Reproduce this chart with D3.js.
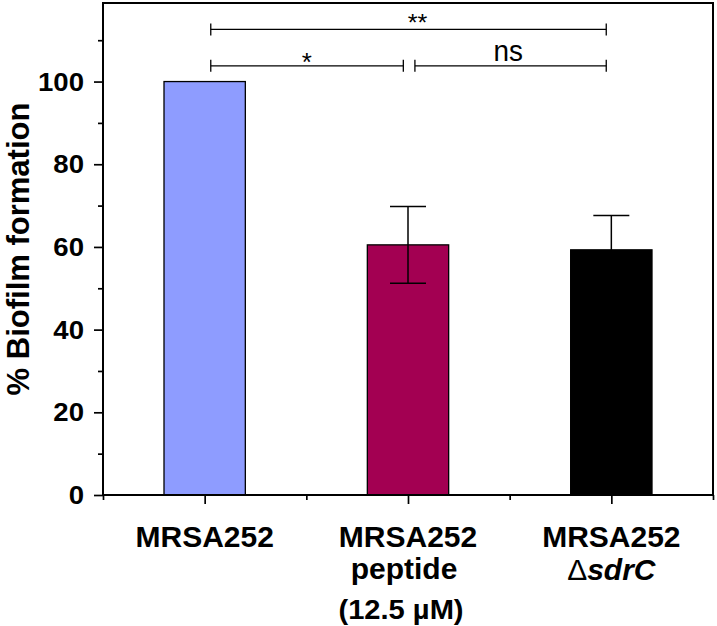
<!DOCTYPE html>
<html>
<head>
<meta charset="utf-8">
<script src="https://cdn.jsdelivr.net/npm/d3@7"></script>
<style>
  html, body { margin: 0; padding: 0; background: #fff; }
  svg { display: block; font-family: "Liberation Sans", Arial, sans-serif; }
</style>
</head>
<body>
<svg id="chart" width="717" height="626"></svg>
<script>
// ---- data ----
const categories = ["MRSA252", "MRSA252 peptide (12.5 µM)", "MRSA252 ΔsdrC"];
const positions = [1, 2, 3];
const values = [100, 60.5, 59.3];
const errors = [0, 9.3, 8.3];
const barColors = ["#8e9cff", "#a30052", "#000000"];
const labelLine1 = ["MRSA252", "MRSA252", "MRSA252"];
const labelLine2 = ["", "peptide", "sdrC"];
const labelLine2Prefix = ["", "", "Δ"];
const labelLine3 = ["", "(12.5 µM)", ""];
const yMajorTicks = [0, 20, 40, 60, 80, 100];
const yMinorTicks = [10, 30, 50, 70, 90, 110];
const xMajorTicks = [1, 2, 3];
const xMinorTicks = [0.5, 1.5, 2.5, 3.5];
const bracketStart = [1.03, 1.03, 2.034];
const bracketEnd = [2.975, 1.977, 2.975];
const bracketLevel = [112.6, 103.8, 103.8];
const bracketLabel = ["**", "*", "ns"];
const bracketLabelX = [2.047, 1.502, 2.493];
const yTitle = "% Biofilm formation";

// ---- layout ----
const svg = d3.select("#chart");
const mLeft = 103, mRight = 713, mTop = 3, mBottom = 495;
const x = d3.scaleLinear().domain([0.5, 3.5]).range([mLeft, mRight]);
const y = d3.scaleLinear().domain([0, 119]).range([mBottom, mTop]);

// bars
const barW = x(1.2) - x(0.8);
svg.append("g").selectAll("rect").data(values).join("rect")
  .attr("x", (d, i) => x(positions[i]) - barW / 2)
  .attr("y", d => y(d))
  .attr("width", barW)
  .attr("height", d => y(0) - y(d))
  .attr("fill", (d, i) => barColors[i])
  .attr("stroke", "#000")
  .attr("stroke-width", 1.3);

// error bars
const capHalf = 18;
const eg = svg.append("g").attr("stroke", "#000").attr("stroke-width", 1.5).attr("fill", "none");
values.forEach((v, i) => {
  if (!errors[i]) return;
  const cx = x(positions[i]);
  const yt = y(v + errors[i]), yb = y(v - errors[i]);
  eg.append("line").attr("x1", cx).attr("x2", cx).attr("y1", yt).attr("y2", yb);
  eg.append("line").attr("x1", cx - capHalf).attr("x2", cx + capHalf).attr("y1", yt).attr("y2", yt);
  eg.append("line").attr("x1", cx - capHalf).attr("x2", cx + capHalf).attr("y1", yb).attr("y2", yb);
});

// axes
const yMaj = svg.append("g").attr("transform", `translate(${mLeft},0)`)
  .call(d3.axisLeft(y).tickValues(yMajorTicks).tickSize(9).tickPadding(9).tickFormat(d3.format("d")));
const yMin = svg.append("g").attr("transform", `translate(${mLeft},0)`)
  .call(d3.axisLeft(y).tickValues(yMinorTicks).tickSize(5).tickFormat(""));
const xMaj = svg.append("g").attr("transform", `translate(0,${mBottom})`)
  .call(d3.axisBottom(x).tickValues(xMajorTicks).tickSize(9).tickFormat(""));
const xMin = svg.append("g").attr("transform", `translate(0,${mBottom})`)
  .call(d3.axisBottom(x).tickValues(xMinorTicks).tickSize(5).tickFormat(""));
[yMaj, yMin, xMaj, xMin].forEach(g => {
  g.select(".domain").remove();
  g.selectAll(".tick line").attr("stroke", "#000").attr("stroke-width", 1.7);
});
yMaj.selectAll(".tick text")
  .attr("font-size", 26.5).attr("font-weight", "bold").attr("fill", "#000")
  .attr("font-family", "Liberation Sans, Arial, sans-serif")
  .each(function() {
    const t = d3.select(this);
    const xx = +t.attr("x");
    t.attr("x", null).attr("transform", `translate(${xx - 1},0) scale(1.04,1)`);
  });

// frame
svg.append("rect").attr("x", mLeft).attr("y", mTop)
  .attr("width", mRight - mLeft).attr("height", mBottom - mTop)
  .attr("fill", "none").attr("stroke", "#000").attr("stroke-width", 2);

// x labels
const xl = svg.append("g").attr("font-weight", "bold").attr("fill", "#000").attr("text-anchor", "middle");
positions.forEach((p, i) => {
  const cx = x(p);
  xl.append("text").attr("transform", `translate(${cx},546.5)`)
    .attr("font-size", 30).text(labelLine1[i]);
  if (labelLine2[i]) {
    const t = xl.append("text").attr("font-size", 30);
    if (labelLine2Prefix[i]) {
      t.attr("transform", `translate(${cx},580)`);
      t.append("tspan").attr("font-weight", "normal").text(labelLine2Prefix[i]);
      t.append("tspan").attr("font-style", "italic").text(labelLine2[i]);
    } else {
      t.attr("transform", `translate(${cx - 4},578.5)`).text(labelLine2[i]);
    }
  }
  if (labelLine3[i]) {
    xl.append("text").attr("transform", `translate(${cx - 7},619) scale(1.04,1)`)
      .attr("font-size", 28).text(labelLine3[i]);
  }
});

// y title
svg.append("text")
  .attr("transform", `translate(28.5,${(mTop + mBottom) / 2}) rotate(-90) scale(1,1)`)
  .attr("text-anchor", "middle").attr("font-weight", "bold").attr("font-size", 31)
  .attr("fill", "#000").text(yTitle);

// significance brackets
const bg = svg.append("g").attr("stroke", "#000").attr("stroke-width", 1.3);
const tickH = 6;
bracketLabel.forEach((lab, i) => {
  const yy = y(bracketLevel[i]);
  const x1 = x(bracketStart[i]), x2 = x(bracketEnd[i]);
  bg.append("line").attr("x1", x1).attr("x2", x2).attr("y1", yy).attr("y2", yy);
  bg.append("line").attr("x1", x1).attr("x2", x1).attr("y1", yy - tickH).attr("y2", yy + tickH);
  bg.append("line").attr("x1", x2).attr("x2", x2).attr("y1", yy - tickH).attr("y2", yy + tickH);
});
const labelBaseline = [30.5, 70.5, 61];
const labelSize = [24, 26, 30];
const labelScale = [1.05, 1.0, 0.93];
bracketLabel.forEach((lab, i) => {
  svg.append("text")
    .attr("transform", `translate(${x(bracketLabelX[i])},${labelBaseline[i]}) scale(${labelScale[i]},1)`)
    .attr("text-anchor", "middle").attr("font-size", labelSize[i]).attr("fill", "#000")
    .text(lab);
});
</script>
</body>
</html>
